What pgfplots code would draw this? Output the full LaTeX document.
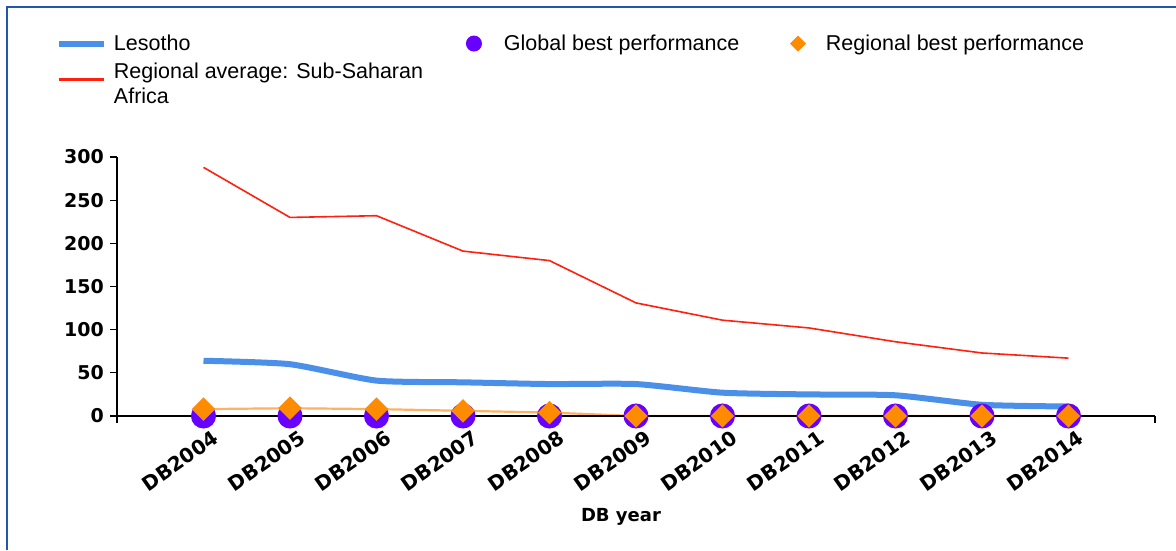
\documentclass[border=0pt]{standalone}
\usepackage{fontspec}
\setmainfont{Liberation Sans}
\newfontfamily\tickfont{DejaVu Sans}
\usepackage{pgfplots}
\pgfplotsset{compat=1.18}

\definecolor{lesblue}{RGB}{74,143,232}
\definecolor{avgred}{RGB}{255,32,16}
\definecolor{glbpurple}{RGB}{104,0,255}
\definecolor{regorange}{RGB}{255,140,0}
\definecolor{regline}{RGB}{255,176,96}
\definecolor{frameblue}{RGB}{30,90,168}

\begin{document}
\begin{tikzpicture}
\useasboundingbox (0,0) rectangle (1176pt,550pt);
\fill[white] (0,0) rectangle (1176pt,550pt);
\draw[frameblue, line width=2pt] (7pt,0pt) -- (7pt,543pt) -- (1176pt,543pt);

\begin{axis}[
    at={(117pt,134pt)}, anchor=south west,
    scale only axis,
    width=1038pt, height=259pt,
    xmin=-1, xmax=11,
    ymin=0, ymax=300,
    clip=false,
    axis on top,
    axis lines*=left,
    axis line style={black, line width=1.2pt},
    xtick={0,...,10},
    xticklabels={DB2004,DB2005,DB2006,DB2007,DB2008,DB2009,DB2010,DB2011,DB2012,DB2013,DB2014},
    extra x ticks={-1,11},
    extra x tick labels={},
    ytick={0,50,...,300},
    tick align=outside,
    major tick length=7pt,
    tick style={black, line width=1.2pt},
    /pgf/number format/assume math mode=true,
    ticklabel style={font=\tickfont\bfseries\fontsize{19}{21}\selectfont, text=black},
    xticklabel style={rotate=35, anchor=north east, inner sep=2pt, xshift=5pt, yshift=-8pt,
        font=\tickfont\bfseries\fontsize{20}{22}\selectfont},
    yticklabel style={inner sep=6pt},
    xlabel={DB year},
    xlabel style={font=\tickfont\bfseries\fontsize{18}{20}\selectfont,
        at={(axis description cs:0.4855,0)}, anchor=center, yshift=-101pt},
    legend columns=3,
    legend style={
        at={(-0.0588,1.471)}, anchor=north west,
        draw=none, fill=none, inner sep=0pt, outer sep=0pt,
        column sep=0pt, row sep=11pt,
        nodes={inner sep=0pt},
        font=\fontsize{21.5}{25}\selectfont,
    },
    legend cell align=left,
]
% data
\addplot[lesblue, line width=6pt, smooth, tension=0.35, forget plot]
    coordinates {(0,64) (1,60) (2,41) (3,39) (4,37) (5,37) (6,27) (7,25) (8,24) (9,13) (10,11)};
\addplot[avgred, line width=1.6pt, forget plot]
    coordinates {(0,288) (1,230) (2,232) (3,191) (4,180) (5,131) (6,111) (7,102) (8,86) (9,73) (10,67)};
\addplot[glbpurple, line width=2pt, mark=*, mark size=11.5pt, mark options={fill=glbpurple, draw=glbpurple}, forget plot]
    coordinates {(0,0) (1,0) (2,0) (3,0) (4,0) (5,0) (6,0) (7,0) (8,0) (9,0) (10,0)};
\addplot[regline, line width=2.2pt, mark=square*, mark size=7.2pt, mark options={rotate=45, fill=regorange, draw=regorange}, forget plot]
    coordinates {(0,8) (1,9) (2,8) (3,6) (4,4) (5,0) (6,0) (7,0) (8,0) (9,0) (10,0)};

% legend
\addlegendimage{legend image code/.code={\draw[lesblue, line width=6pt] (0pt,0pt) -- (45pt,0pt);}}
\addlegendentry{\hspace{7pt}\makebox[348pt][l]{Lesotho}}
\addlegendimage{legend image code/.code={\path[draw=none, fill=none] (0pt,0pt) rectangle (30pt,0pt); \fill[glbpurple, draw=none] (12pt,0pt) circle (8pt);}}
\addlegendentry{\hspace{12pt}\makebox[280pt][l]{Global best performance}}
\addlegendimage{legend image code/.code={\path[draw=none, fill=none] (0pt,0pt) rectangle (30pt,0pt); \fill[regorange, draw=none] (14pt,8pt) -- (22pt,0pt) -- (14pt,-8pt) -- (6pt,0pt) -- cycle;}}
\addlegendentry{\hspace{12pt}Regional best performance}
\addlegendimage{legend image code/.code={\draw[avgred, line width=3pt] (0pt,-7.5pt) -- (45pt,-7.5pt);}}
\addlegendentry{\hspace{7pt}\parbox[t]{348pt}{Regional average: Sub-Saharan\\Africa}}
\end{axis}
\end{tikzpicture}
\end{document}
